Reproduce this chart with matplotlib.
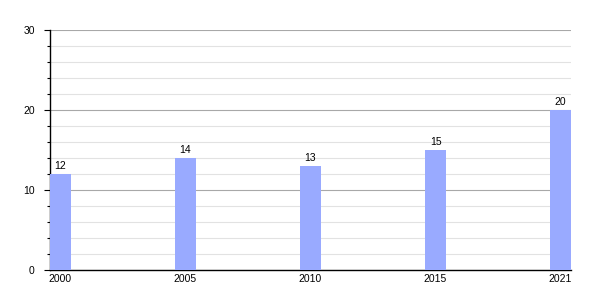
import matplotlib.pyplot as plt
from matplotlib.ticker import MultipleLocator

plt.rcParams['font.family'] = ['Liberation Sans', 'DejaVu Sans']

years = ['2000', '2005', '2010', '2015', '2021']
values = [12, 14, 13, 15, 20]

fig = plt.figure(figsize=(6, 3), dpi=100)
ax = fig.add_axes([50 / 600, 30 / 300, 521 / 600, 240 / 300])

w = 0.166
pos = list(range(len(years)))
ax.bar([p + w / 2 for p in pos], values, width=w, color='#99aaff', zorder=3)
for p, v in zip(pos, values):
    ax.text(p + w / 2, v + 0.4, str(v), ha='center', va='bottom', fontsize=7.5, zorder=4)

ax.set_xlim(0, 4 + w)
ax.set_ylim(0, 30)
ax.set_xticks([p + w / 2 for p in pos])
ax.set_xticklabels(years)
ax.yaxis.set_major_locator(MultipleLocator(10))
ax.yaxis.set_minor_locator(MultipleLocator(2))

ax.grid(axis='y', which='major', color='#a8a8a8', linewidth=0.8, zorder=0)
ax.grid(axis='y', which='minor', color='#e2e2e2', linewidth=0.8, zorder=0)

ax.tick_params(axis='x', length=0, pad=3, labelsize=7.5)
ax.tick_params(axis='y', which='major', length=4, width=0.8, pad=7, labelsize=7.5)
ax.tick_params(axis='y', which='minor', length=2.3, width=0.8)

for s in ['top', 'right']:
    ax.spines[s].set_visible(False)
ax.spines['left'].set_linewidth(1)
ax.spines['bottom'].set_linewidth(1)

fig.savefig('out.png', dpi=100)
